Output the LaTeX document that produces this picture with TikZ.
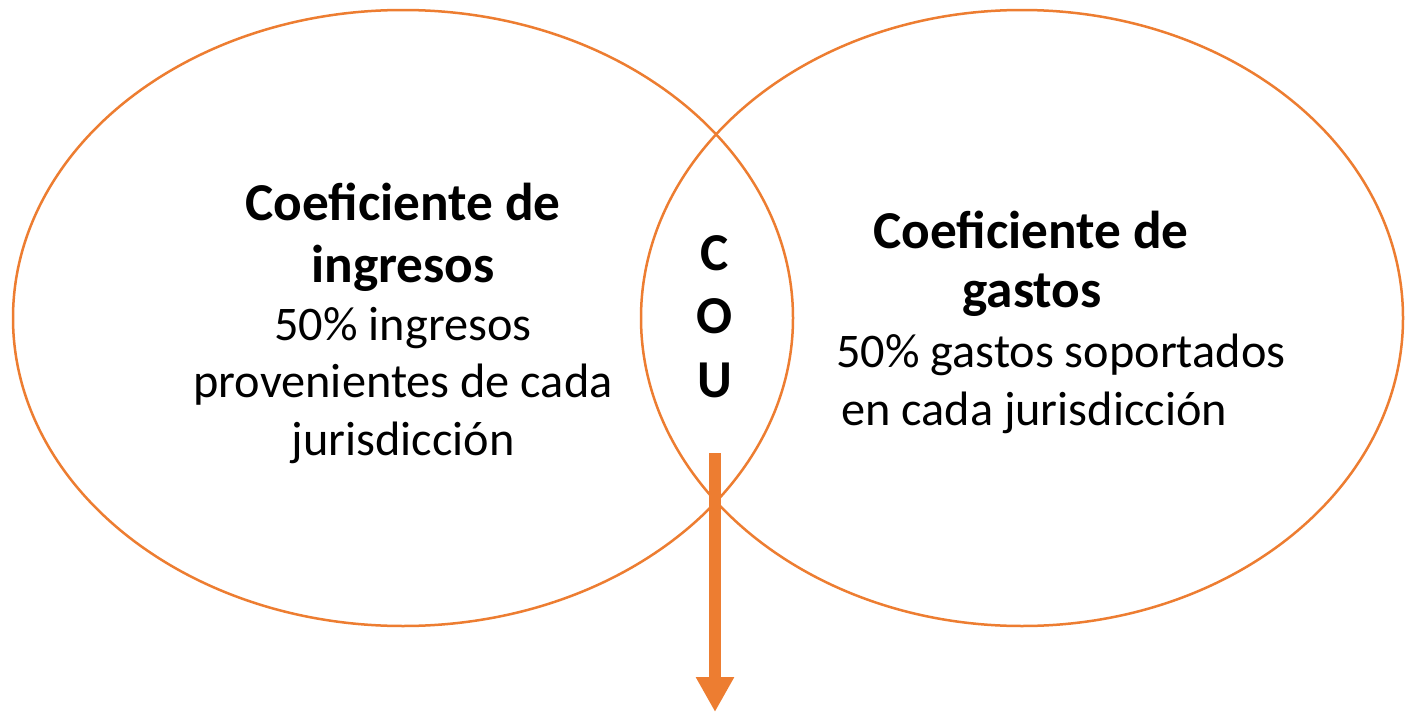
\documentclass[tikz,border=0pt]{standalone}
\usepackage{fontspec}
\setmainfont{Carlito}
\usetikzlibrary{shapes.geometric,arrows.meta}
\definecolor{accent}{HTML}{ED7D31}
\tikzset{
  venn/.style={draw=accent, line width=2.5pt, ellipse, inner sep=0pt},
  boldtxt/.style={inner sep=0pt, font=\fontsize{53.3}{62}\selectfont\bfseries, text=black},
  normtxt/.style={inner sep=0pt, font=\fontsize{48.3}{57}\selectfont, text=black},
  flow/.style={draw=accent, line width=12pt, -{Triangle[width=36pt,length=35pt]}}
}
\begin{document}
\begin{tikzpicture}[x=1pt,y=-1pt]
\useasboundingbox (0,0) rectangle (1406,712);
\fill[white] (0,0) rectangle (1406,712);
\node[venn, minimum width=780pt, minimum height=616pt] (left) at (403,318) {};
\node[venn, minimum width=762pt, minimum height=616pt] (right) at (1022,318) {};
% left texts
\node[boldtxt, anchor=base] (l1) at (403,220) {Coeficiente de};
\node[boldtxt, anchor=base] (l2) at (403,282) {ingresos};
\node[normtxt, anchor=base] (l3) at (403,340) {50\% ingresos};
\node[normtxt, anchor=base] (l4) at (403,397) {provenientes de cada};
\node[normtxt, anchor=base] (l5) at (403,455) {jurisdicción};
% right texts
\node[boldtxt, anchor=base] (r1) at (1031,248) {Coeficiente de};
\node[boldtxt, anchor=base] (r2) at (1032,307) {gastos};
\node[normtxt, anchor=base west] (r3) at (836,367) {50\% gastos soportados};
\node[normtxt, anchor=base west] (r4) at (841,425) {en cada jurisdicción};
% COU
\node[boldtxt, anchor=base] (c1) at (715,270) {C};
\node[boldtxt, anchor=base] (c2) at (715,333) {O};
\node[boldtxt, anchor=base] (c3) at (715,397) {U};
% arrow
\coordinate (as) at (715,453);
\coordinate (ae) at (715,712);
\draw[flow] (as) -- (ae);
\end{tikzpicture}
\end{document}
